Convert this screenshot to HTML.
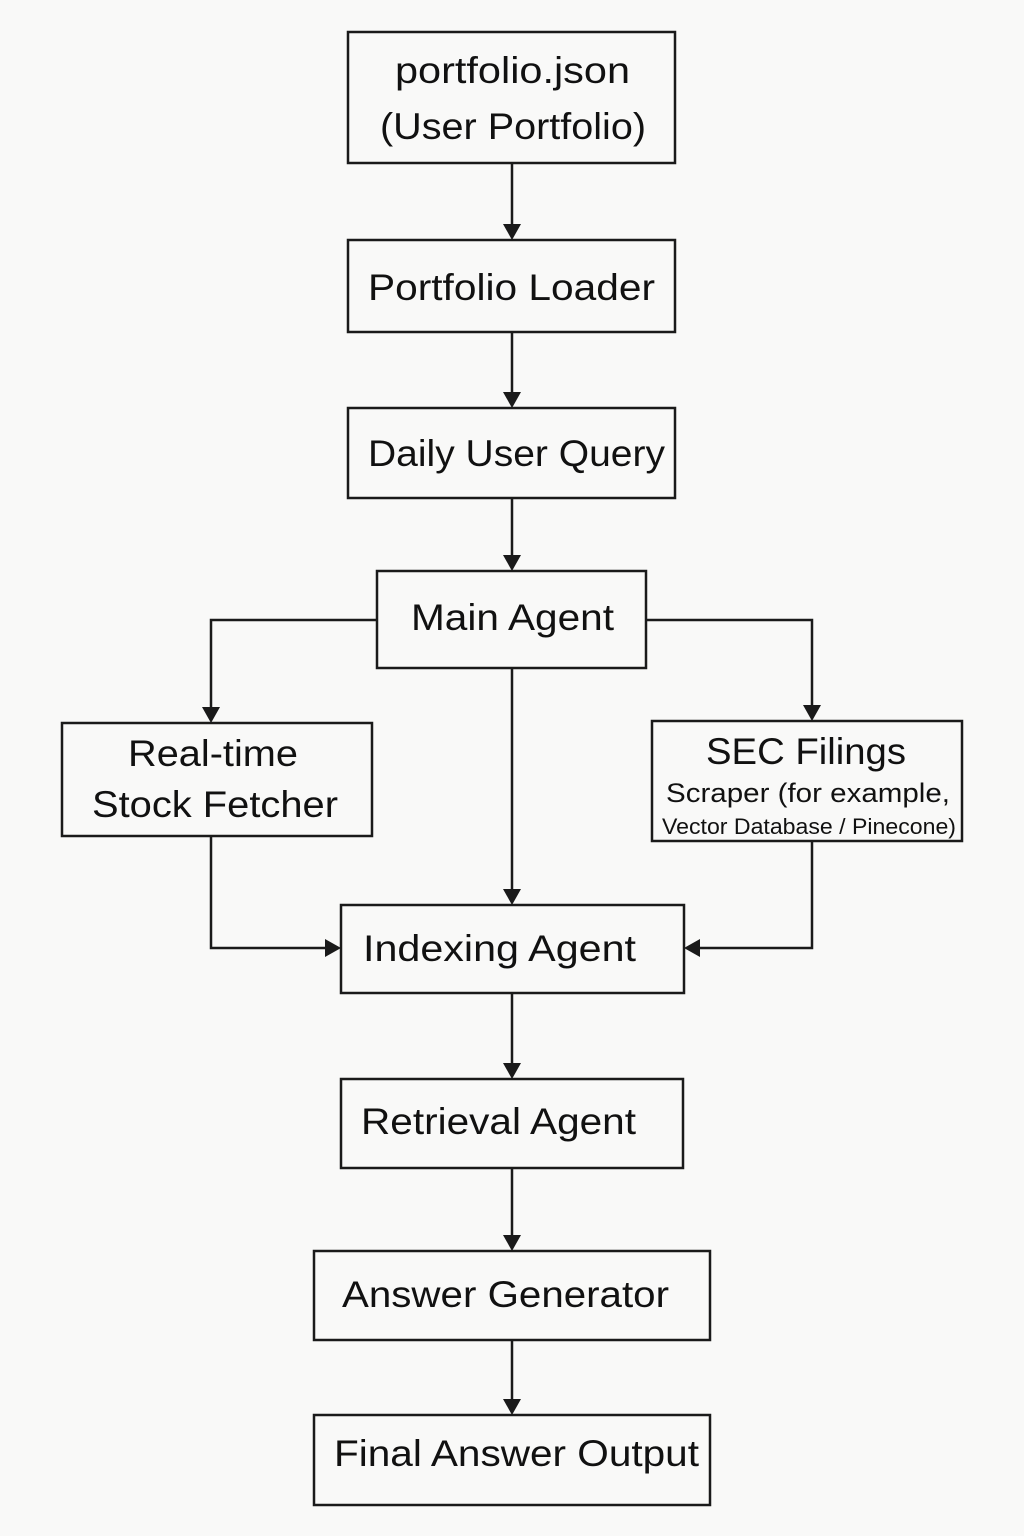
<!DOCTYPE html>
<html><head><meta charset="utf-8"><style>
html,body{margin:0;padding:0;background:#f9f9f8;}
svg{display:block}
text{font-family:"Liberation Sans",sans-serif;fill:#111;}
</style></head><body>
<svg width="1024" height="1536" viewBox="0 0 1024 1536" xmlns="http://www.w3.org/2000/svg">
<rect width="1024" height="1536" fill="#f9f9f8"/>
<g fill="none" stroke="#1a1a1a" stroke-width="2.5">
<rect x="348" y="32" width="327" height="131"/>
<rect x="348" y="240" width="327" height="92"/>
<rect x="348" y="408" width="327" height="90"/>
<rect x="377" y="571" width="269" height="97"/>
<rect x="62" y="723" width="310" height="113"/>
<rect x="652" y="721" width="310" height="120"/>
<rect x="341" y="905" width="343" height="88"/>
<rect x="341" y="1079" width="342" height="89"/>
<rect x="314" y="1251" width="396" height="89"/>
<rect x="314" y="1415" width="396" height="90"/>
<path d="M512 163V228M512 332V396M512 498V559M512 668V893M512 993V1067M512 1168V1239M512 1340V1403"/>
<path d="M377 620H211V711M646 620H812V709"/>
<path d="M211 836V948H329M812 841V948H696"/>
</g>
<g fill="#1a1a1a">
<path d="M503 224L521 224L512 240Z"/>
<path d="M503 392L521 392L512 408Z"/>
<path d="M503 555L521 555L512 571Z"/>
<path d="M503 889L521 889L512 905Z"/>
<path d="M503 1063L521 1063L512 1079Z"/>
<path d="M503 1235L521 1235L512 1251Z"/>
<path d="M503 1399L521 1399L512 1415Z"/>
<path d="M202 707L220 707L211 723Z"/>
<path d="M803 705L821 705L812 721Z"/>
<path d="M325 939L325 957L341 948Z"/>
<path d="M700 939L700 957L684 948Z"/>
</g>
<g font-size="37" lengthAdjust="spacingAndGlyphs">
<text x="395" y="83" textLength="235" lengthAdjust="spacingAndGlyphs">portfolio.json</text>
<text x="380" y="139" textLength="266" lengthAdjust="spacingAndGlyphs">(User Portfolio)</text>
<text x="368" y="300" textLength="287" lengthAdjust="spacingAndGlyphs">Portfolio Loader</text>
<text x="368" y="466" textLength="297" lengthAdjust="spacingAndGlyphs">Daily User Query</text>
<text x="411" y="630" textLength="203" lengthAdjust="spacingAndGlyphs">Main Agent</text>
<text x="128" y="766" textLength="170" lengthAdjust="spacingAndGlyphs">Real-time</text>
<text x="92" y="817" textLength="246" lengthAdjust="spacingAndGlyphs">Stock Fetcher</text>
<text x="706" y="764" textLength="200" lengthAdjust="spacingAndGlyphs">SEC Filings</text>
<text x="363" y="961" textLength="273" lengthAdjust="spacingAndGlyphs">Indexing Agent</text>
<text x="361" y="1134" textLength="275" lengthAdjust="spacingAndGlyphs">Retrieval Agent</text>
<text x="342" y="1307" textLength="327" lengthAdjust="spacingAndGlyphs">Answer Generator</text>
<text x="334" y="1466" textLength="365" lengthAdjust="spacingAndGlyphs">Final Answer Output</text>
</g>
<text x="666" y="802" font-size="27" textLength="284" lengthAdjust="spacingAndGlyphs">Scraper (for example,</text>
<text x="662" y="834" font-size="22" textLength="294" lengthAdjust="spacingAndGlyphs">Vector Database / Pinecone)</text>
</svg>
</body></html>
